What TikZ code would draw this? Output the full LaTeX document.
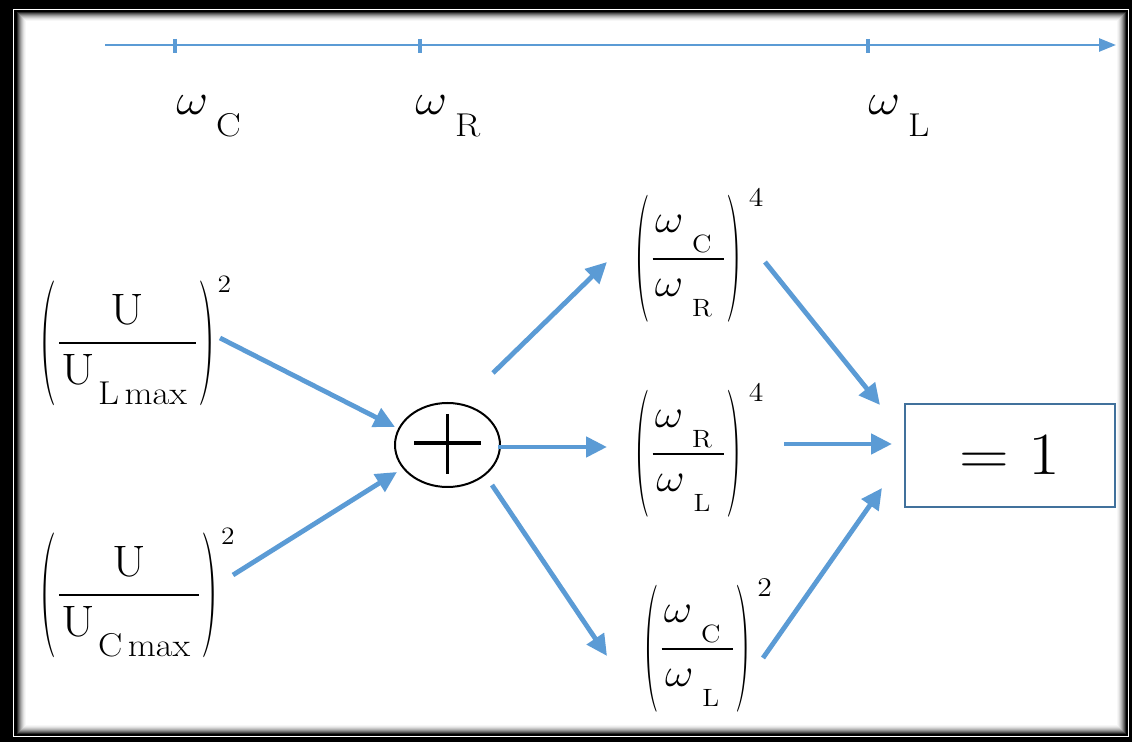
\documentclass[tikz,border=0pt]{standalone}
\usepackage{fix-cm}
\usepackage{amsmath}
\usepackage{graphicx}
\usetikzlibrary{arrows.meta,shapes.geometric}
\definecolor{arrblue}{HTML}{5B9BD5}
\definecolor{boxblue}{HTML}{41719C}
% horizontally widened text
\newcommand\wide[2]{\scalebox{#1}[1]{#2}}
% omega with a lowered, spaced subscript: #1 size, #2 gap, #3 drop, #4 letter
\newcommand\ws[4]{\omega\kern#2\lower#3\hbox{\fontsize{#1}{#1}\selectfont #4}}
% tall thin parenthesis
\newcommand\tp[2]{\vcenter{\hbox{\scalebox{1}[#1]{#2}}}}
% left fractions U / U_{X max}
\newcommand\Lfrac[2]{\tp{2.84}{(}\dfrac{\hbox{U}}{\hbox{\kern1pt U\kern1.5pt\lower10pt\hbox{\fontsize{16.5}{17}\selectfont #1\kern2.5pt max}\kern4pt}}\tp{2.84}{)}^{\hbox{\kern1pt\fontsize{12.5}{13}\selectfont #2}}}
% right fractions omega_a / omega_b
\newcommand\Rfrac[3]{\tp{3.18}{(}\dfrac{\kern1pt\ws{12.5}{4pt}{10pt}{#1}\kern5.5pt}{\kern1pt\ws{12.5}{4pt}{10pt}{#2}\kern5.5pt}\tp{3.18}{)}^{\hbox{\kern3pt\fontsize{13.5}{14}\selectfont #3}}}
\begin{document}
\begin{tikzpicture}[x=0.5pt,y=-0.5pt,
  arr/.style={draw=arrblue,line width=2.4pt,-{Triangle[length=10.5pt,width=10pt]}},
  axisline/.style={draw=arrblue,line width=1.3pt,-{Triangle[length=8.5pt,width=6.5pt]}},
  tickmark/.style={draw=arrblue,line width=1.8pt},
  fracL/.style={inner sep=0pt,anchor=base west,font=\fontsize{22}{26}\selectfont},
  fracR/.style={inner sep=0pt,anchor=base west,font=\fontsize{20}{24}\selectfont},
  axlabel/.style={inner sep=0pt,anchor=base west,font=\fontsize{22}{26}\selectfont},
  plusnode/.style={draw,line width=1pt,ellipse,minimum width=52.5pt,minimum height=42pt,inner sep=0pt},
  eqbox/.style={draw=boxblue,line width=1.2pt,minimum width=105pt,minimum height=51.5pt,inner sep=0pt,font=\fontsize{30}{36}\selectfont}
]
\useasboundingbox (0,0) rectangle (1132,742);
% frame
\fill[black] (0,0) rectangle (1132,742);
\draw[white,line width=0.6pt] (13.5,9.5) rectangle (1128.5,736.5);
\fill[white] (17,12) rectangle (1126,734);
\foreach \i [evaluate=\i as \c using {int(85*(1-\i/10)*(1-\i/10))}] in {0,...,9}
  \draw[black!\c,line width=0.5pt] (17.5+\i,12.5+\i) rectangle (1125.5-\i,733.5-\i);

% axis
\coordinate (ax0) at (105,45);
\coordinate (ax1) at (1116,45);
\draw[axisline] (ax0) -- (ax1);
\foreach \x/\n in {175/tc,420/tr,868/tl}{
  \coordinate (\n) at (\x,46);
  \draw[tickmark] ([yshift=3.6pt]\n) -- ([yshift=-3.6pt]\n);
}
\node[axlabel] (lc) at (176,115) {\wide{1.12}{$\ws{16.5}{3.5pt}{11pt}{C}$}};
\node[axlabel] (lr) at (415,115) {\wide{1.12}{$\ws{16.5}{3.5pt}{11pt}{R}$}};
\node[axlabel] (ll) at (868,115) {\wide{1.12}{$\ws{16.5}{3.5pt}{11pt}{L}$}};

% left fractions
\node[fracL] (f1) at (39,354) {\wide{1.1}{$\Lfrac{L}{2}$}};
\node[fracL] (f2) at (39,606) {\wide{1.1}{$\Lfrac{C}{2}$}};

% plus
\node[plusnode] (plus) at (447.5,445) {};
\draw[line width=1.6pt] ([xshift=-16.75pt,yshift=1pt]plus.center) -- ([xshift=16.75pt,yshift=1pt]plus.center);
\draw[line width=1.6pt] ([yshift=15.5pt]plus.center) -- ([yshift=-14.5pt]plus.center);

% right fractions
\node[fracR] (r1) at (634,269) {\wide{1.1}{$\Rfrac{C}{R}{4}$}};
\node[fracR] (r2) at (634,464) {\wide{1.1}{$\Rfrac{R}{L}{4}$}};
\node[fracR] (r3) at (643,659) {\wide{1.1}{$\Rfrac{C}{L}{2}$}};

% result box
\node[eqbox] (eq) at (1010,455.5) {\wide{1.15}{$=1$}};

% arrows
\draw[arr] ([shift={(181,-16)}]f1.base west) -- ([shift={(-52.5,-18)}]plus.center);
\draw[arr] ([shift={(194,-31)}]f2.base west) -- ([shift={(-50.5,27)}]plus.center);
\draw[arr] ([shift={(45.5,-72)}]plus.center) -- ([shift={(-27,-7)}]r1.base west);
\draw[arr] ([shift={(50.5,2)}]plus.center) -- ([shift={(-27,-17)}]r2.base west);
\draw[arr] ([shift={(44.5,40)}]plus.center) -- ([shift={(-36,-3)}]r3.base west);
\draw[arr] ([shift={(131,-7)}]r1.base west) -- ([shift={(-130,-50.5)}]eq.center);
\draw[arr] ([shift={(150,-20)}]r2.base west) -- ([shift={(-118,-11.5)}]eq.center);
\draw[arr] ([shift={(120,-1)}]r3.base west) -- ([shift={(-128,32.5)}]eq.center);
\end{tikzpicture}
\end{document}
